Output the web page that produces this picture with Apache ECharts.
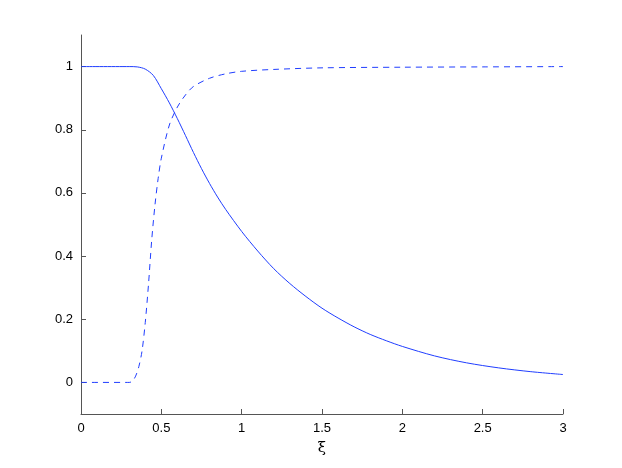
<!DOCTYPE html>
<html>
<head>
<meta charset="utf-8">
<script src="https://cdn.jsdelivr.net/npm/echarts@6/dist/echarts.min.js"></script>
<style>
  html, body { margin: 0; padding: 0; background: #fff; }
  #chart { width: 622px; height: 468px; }
</style>
</head>
<body>
<div id="chart"></div>
<script>
// solid curve
var solidX = [0, 0.3, 0.35, 0.4, 0.45, 0.5, 0.55, 0.6, 0.65, 0.7, 0.75, 0.8, 0.85, 0.9, 1.0, 1.1, 1.2, 1.3, 1.4, 1.5, 1.6, 1.7, 1.8, 1.9, 2.0, 2.2, 2.4, 2.6, 2.8, 3.0];
var solidY = [1, 1, 0.999, 0.992, 0.972, 0.93, 0.885, 0.835, 0.782, 0.728, 0.677, 0.63, 0.587, 0.548, 0.478, 0.416, 0.36, 0.313, 0.272, 0.235, 0.204, 0.176, 0.152, 0.132, 0.114, 0.084, 0.062, 0.046, 0.034, 0.025];

// dashed curve
var dashX = [0, 0.3, 0.32, 0.34, 0.36, 0.38, 0.4, 0.42, 0.44, 0.46, 0.48, 0.5, 0.55, 0.6, 0.65, 0.7, 0.8, 0.9, 1.0, 1.2, 1.5, 2.0, 2.5, 3.0];
var dashY = [0, 0, 0.004, 0.02, 0.05, 0.1, 0.19, 0.31, 0.45, 0.56, 0.645, 0.71, 0.815, 0.872, 0.91, 0.937, 0.963, 0.977, 0.985, 0.991, 0.996, 0.998, 0.999, 1];

var yTicks = [0, 0.2, 0.4, 0.6, 0.8, 1];

function pairs(xs, ys) {
  return xs.map(function (x, i) { return [x, ys[i]]; });
}

var myChart = echarts.init(document.getElementById('chart'));

var axisCommon = {
  axisLine: { show: true, onZero: false, lineStyle: { color: '#555', width: 1 } },
  axisTick: { show: true, inside: true, length: 5, lineStyle: { color: '#555' } },
  splitLine: { show: false },
  axisLabel: { color: '#000', fontSize: 13, fontFamily: 'Liberation Sans, Arial, sans-serif' }
};

option = {
  animation: false,
  grid: { left: 81, right: 59, top: 35, bottom: 54 },
  xAxis: echarts.util.merge({
    type: 'value',
    min: 0,
    max: 3,
    interval: 0.5,
    name: 'ξ',
    nameLocation: 'middle',
    nameGap: 27,
    nameTextStyle: { color: '#000', fontSize: 15, fontFamily: 'DejaVu Serif, serif' },
    axisLabel: { margin: 8 }
  }, axisCommon, false),
  yAxis: echarts.util.merge({
    type: 'value',
    min: -0.1,
    max: 1.1,
    axisLabel: { margin: 8, customValues: yTicks },
    axisTick: { customValues: yTicks }
  }, axisCommon, false),
  series: [
    {
      type: 'line',
      data: pairs(solidX, solidY),
      smooth: 0.3,
      showSymbol: false,
      lineStyle: { color: '#1f3dff', width: 1 }
    },
    {
      type: 'line',
      data: pairs(dashX, dashY),
      smooth: 0.3,
      showSymbol: false,
      lineStyle: { color: '#1f3dff', width: 1, type: [6, 5] }
    }
  ]
};

myChart.setOption(option);
</script>
</body>
</html>
